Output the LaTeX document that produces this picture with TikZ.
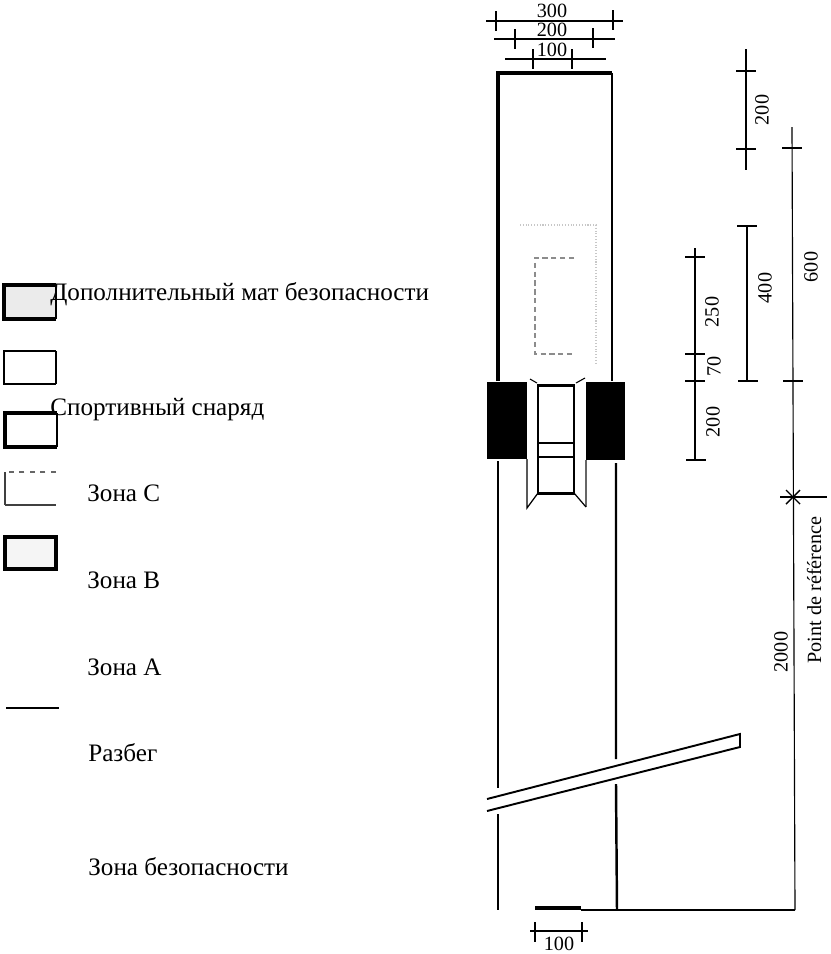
\documentclass[tikz,border=0pt]{standalone}
\usepackage{fontspec}
\setmainfont{Liberation Serif}
\begin{document}
\begin{tikzpicture}[x=0.02cm,y=-0.02cm]
    \tikzstyle{legend}=[anchor=west,inner sep=0pt,font=\fontsize{14.3}{16}\selectfont];
    \tikzstyle{size}=[inner sep=0pt,font=\fontsize{11.5}{12}\selectfont];
    \tikzstyle{upsize}=[inner sep=0pt,rotate=90,font=\fontsize{11.5}{12}\selectfont];
    \tikzstyle{vtick}=[fill,inner sep=0pt,minimum width=1pt,minimum height=11pt];
    \tikzstyle{htick}=[fill,inner sep=0pt,minimum width=11.5pt,minimum height=1pt];
    \tikzstyle{dim}=[line width=0.8pt];
    \tikzstyle{wall}=[line width=1.4pt];
    \tikzstyle{heavy}=[line width=2pt];
    \useasboundingbox (0,0) rectangle (831,954);

    % legend
    \draw[line width=2.2pt,fill=black!8] (56,285) -- (4,285) -- (4,319) -- (56,319);
    \draw[line width=0.8pt] (56,285) -- (56,319);
    \draw[wall] (56,351) -- (4,351) -- (4,384) -- (56,384);
    \draw[line width=0.6pt] (56,351) -- (56,384);
    \draw[heavy] (57,447) -- (5,447) -- (5,413) -- (57,413);
    \draw[line width=0.6pt] (57,413) -- (57,447);
    \draw[black!60,dashed,line width=0.7pt] (56,472) -- (5,472);
    \draw[black!75,line width=1.1pt] (5,472) -- (5,505);
    \draw[black!75,line width=0.9pt] (5,505) -- (56,505);
    \draw[heavy,fill=black!4] (5,537) rectangle (56,569);
    \draw[line width=1pt] (6,708) -- (59,708);

    \node (add) [legend] at (50,294) {Дополнительный мат безопасности};
    \node (app) [legend] at (50,410) {Спортивный снаряд};
    \node (zc) [legend] at (87,493) {Зона C};
    \node (zb) [legend] at (87,580) {Зона B};
    \node (za) [legend] at (87,667) {Зона A};
    \node (run) [legend] at (88,753) {Разбег};
    \node (safe) [legend] at (88,867) {Зона безопасности};

    % landing area
    \draw[wall] (612,381) -- (612,73);
    \draw[heavy] (498,381) -- (498,73) -- (612,73);
    \draw[black!45,densely dashed,line width=0.7pt] (574,258) -- (535,258) -- (535,354) -- (574,354);
    \draw[black!22,densely dotted,line width=0.6pt] (520,225) -- (596,225) -- (596,365);
    \fill (487,382) rectangle (527,459);
    \fill (586,382) rectangle (625,460);

    % apparatus
    \draw[line width=1.7pt] (538,385) rectangle (574,493);
    \draw[line width=1.2pt] (538,443) -- (574,443) (538,457) -- (574,457);
    \draw[line width=0.6pt] (530,379) -- (537,383) (576,383) -- (585,378);
    \draw[line width=0.7pt] (527,459) -- (527,508) -- (538,493);
    \draw[black!60,line width=0.7pt] (586,460) -- (586,507);
    \draw[line width=0.7pt] (586,507) -- (574,493);

    % run-up
    \draw[wall] (498,461) -- (498,788) (498,814) -- (498,910);
    \draw[wall] (616,463) -- (616,759) (616,784) -- (617,910);
    \draw[line width=1.1pt] (487,799) -- (740,734) -- (740,747) -- (487,811);
    \draw[line width=2.4pt] (535,908) -- (581,908);
    \draw[line width=0.9pt] (581,910) -- (795,910);

    % sizes on top
    \coordinate (a300) at (486,21); \coordinate (b300) at (623,21);
    \coordinate (a200) at (494,39); \coordinate (b200) at (615,39);
    \coordinate (a100) at (505,59); \coordinate (b100) at (606,59);
    \path[dim] (a300) edge (b300) (a200) edge (b200) (a100) edge (b100);
    \node (t1) [vtick] at (496,21) {}; \node (t2) [vtick] at (613,20) {};
    \node (t3) [vtick] at (515,39) {}; \node (t4) [vtick] at (593,38) {};
    \node (t5) [vtick] at (533,59) {}; \node (t6) [vtick] at (572,59) {};
    \node (l300) [size] at (552,11) {300};
    \node (l200) [size] at (552,30) {200};
    \node (l100) [size] at (552,50) {100};

    % sizes on the right
    \coordinate (a1) at (746,49); \coordinate (b1) at (746,170);
    \coordinate (a2) at (747,226); \coordinate (b2) at (747,381);
    \coordinate (a3) at (695,248); \coordinate (b3) at (695,460);
    \coordinate (a4) at (792,127); \coordinate (b4) at (795,910);
    \path[dim] (a1) edge (b1) (a2) edge (b2) (a3) edge (b3);
    \path[line width=0.65pt] (a4) edge (b4);
    \node (h1) [htick] at (746,71) {}; \node (h2) [htick] at (746,149) {};
    \node (h3) [htick] at (747,226) {}; \node (h4) [htick] at (748,381) {};
    \node (h5) [htick] at (695,257) {}; \node (h6) [htick] at (695,354) {};
    \node (h7) [htick] at (695,381) {}; \node (h8) [htick] at (696,460) {};
    \node (h9) [htick] at (792,148) {}; \node (h10) [htick] at (793,381) {};
    \node (r200) [upsize] at (762,110) {200};
    \node (r400) [upsize] at (765,288) {400};
    \node (r600) [upsize] at (811,267) {600};
    \node (r250) [upsize] at (712,312) {250};
    \node (r70) [upsize] at (714,366) {70};
    \node (r201) [upsize] at (713,422) {200};
    \node (r2000) [upsize] at (781,652) {2000};

    % reference point
    \coordinate (pl) at (780,497); \coordinate (pr) at (827,497);
    \coordinate (d1) at (786,490); \coordinate (d2) at (800,504);
    \coordinate (d3) at (800,490); \coordinate (d4) at (786,504);
    \path[dim] (pl) edge (pr) (d1) edge (d2) (d3) edge (d4);
    \node (ref) [upsize] at (814,590) {Point de référence};

    % size of the board
    \coordinate (a5) at (530,931); \coordinate (b5) at (588,931);
    \path[dim] (a5) edge (b5);
    \node (v1) [vtick] at (535,932) {}; \node (v2) [vtick] at (582,932) {};
    \node (l101) [size] at (559,944) {100};
\end{tikzpicture}
\end{document}
